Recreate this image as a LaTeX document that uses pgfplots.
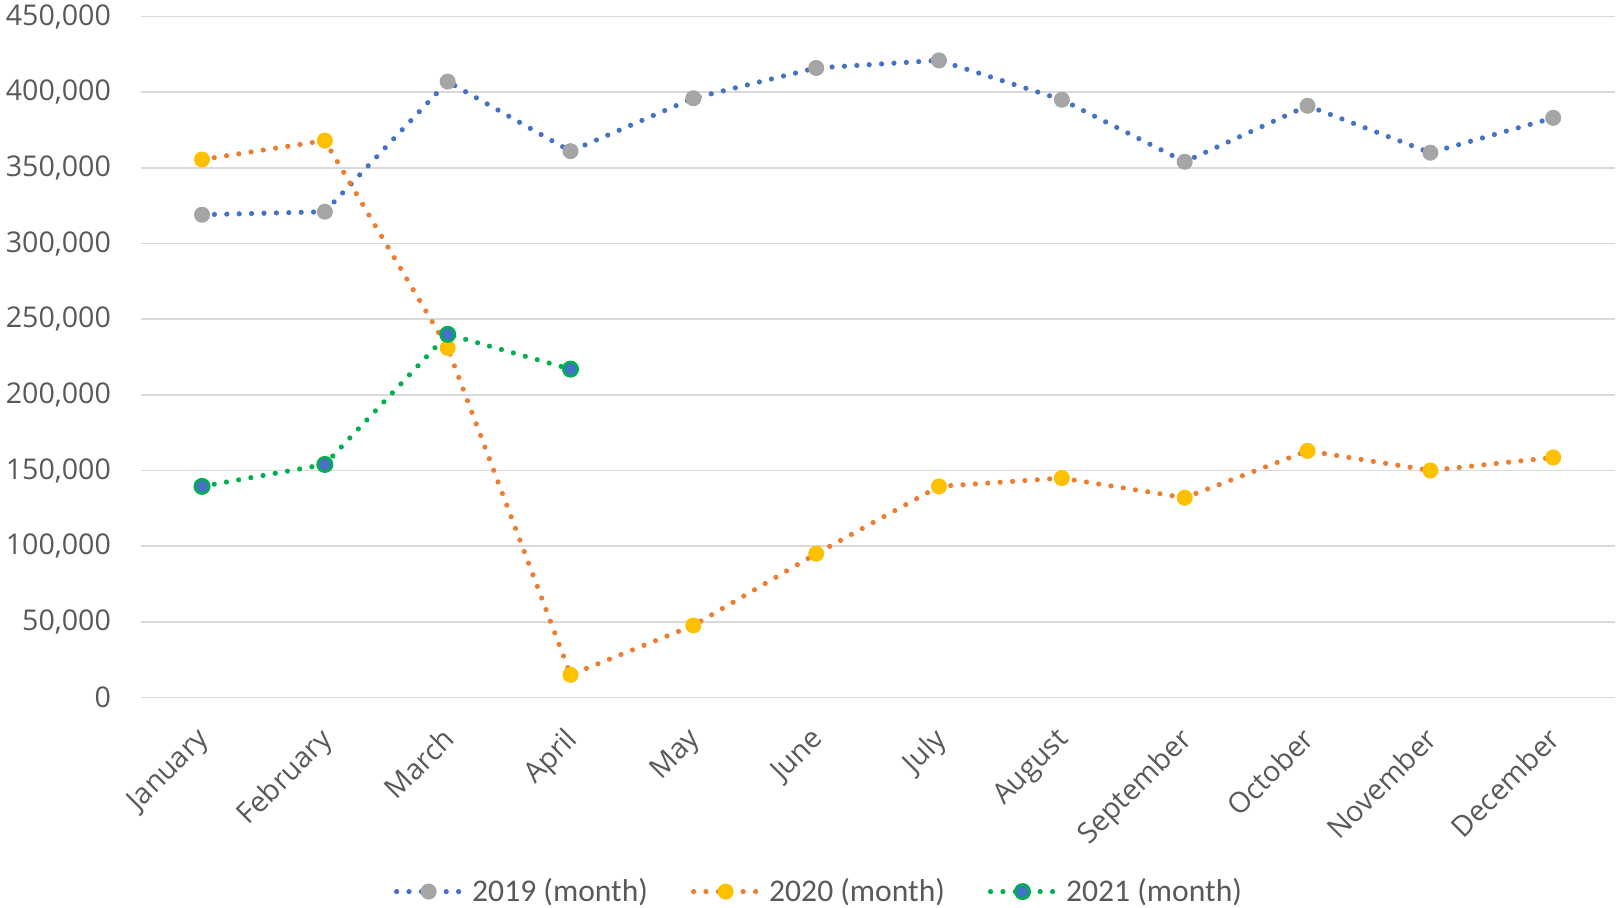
\documentclass[border=0pt]{standalone}
\usepackage{pgfplots}
\pgfplotsset{compat=1.18}
\usepackage{fontspec}
\setmainfont{Open Sans}
\newfontfamily\legfont{Carlito}
\definecolor{cBlue}{HTML}{4472C4}
\definecolor{cGray}{HTML}{A5A5A5}
\definecolor{cOrange}{HTML}{ED7D31}
\definecolor{cYellow}{HTML}{FFC000}
\definecolor{cGreen}{HTML}{00B050}
\definecolor{cGrid}{HTML}{D9D9D9}
\definecolor{cText}{HTML}{595959}
\begin{document}
\begin{tikzpicture}
\begin{axis}[
  name=ax,
  scale only axis,
  width=737pt, height=340.5pt,
  xmin=-0.5, xmax=11.5,
  ymin=0, ymax=450000,
  xtick={0,...,11},
  xticklabels={January,February,March,April,May,June,July,August,September,October,November,December},
  ytick={0,50000,...,450000},
  ymajorgrids,
  grid style={cGrid, line width=0.8pt},
  axis line style={draw=none},
  major tick length=0pt,
  clip=false,
  scaled y ticks=false,
  /pgf/number format/fixed,
  /pgf/number format/1000 sep={,},
  /pgf/number format/assume math mode=true,
  tick label style={font=\fontsize{14.3}{17}\selectfont, text=cText},
  yticklabel style={xshift=-11.3pt},
  xticklabel style={xshift=-3.4pt, yshift=-9.2pt, rotate=45, anchor=north east},
  every axis plot/.append style={line width=2.6pt, line cap=round, dash pattern=on 0pt off 6.2pt},
  legend columns=3,
  legend style={draw=none, fill=none, at={(rel axis cs:0.4626,-0.285)}, anchor=center,
    font=\legfont\fontsize{15.8}{18}\selectfont, text=cText,
    nodes={inner xsep=4.5pt, inner ysep=1pt},
    /tikz/every even column/.append style={column sep=17pt}},
  legend image code/.code={\draw[mark repeat=2, mark phase=2] plot coordinates {(0pt,0pt)(16pt,0pt)(32pt,0pt)};},
]
\addplot[color=cBlue, mark=*, mark size=3.75pt, mark options={solid, fill=cGray, draw=cGray, line width=0.5pt}]
coordinates {(0,319000)(1,321000)(2,407000)(3,361000)(4,396000)(5,416000)(6,421000)(7,395000)(8,354000)(9,391000)(10,360000)(11,383000)};
\addlegendentry{2019 (month)}
\addplot[color=cOrange, mark=*, mark size=3.75pt, mark options={solid, fill=cYellow, draw=cYellow, line width=0.5pt}]
coordinates {(0,355500)(1,368000)(2,231000)(3,15000)(4,47600)(5,95000)(6,139500)(7,145000)(8,132000)(9,163000)(10,150000)(11,158600)};
\addlegendentry{2020 (month)}
\addplot[color=cGreen, mark=*, mark size=3.6pt, mark options={solid, fill=cBlue, draw=cGreen, line width=1.3pt}]
coordinates {(0,139500)(1,154000)(2,240000)(3,217000)};
\addlegendentry{2021 (month)}
\end{axis}
\pgfresetboundingbox
\useasboundingbox (ax.south west) ++(-70.3pt,-105.15pt) rectangle (ax.north east) ++(0.7pt,8.25pt);
\end{tikzpicture}
\end{document}
